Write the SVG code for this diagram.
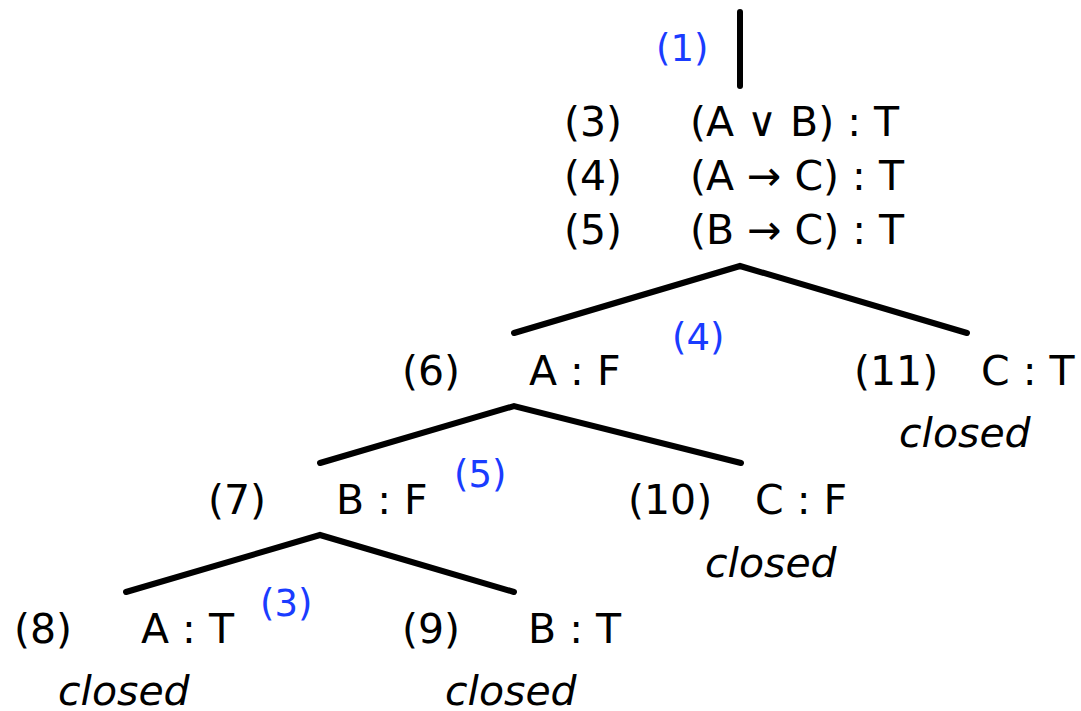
<svg xmlns="http://www.w3.org/2000/svg" width="1081" height="711" viewBox="0 0 1081 711">
<style>
text{font-family:"DejaVu Sans",sans-serif;font-size:41px;fill:#000}
.ref{fill:#1a3cff;font-size:37px}
.cl{font-style:italic}
.br{fill:none;stroke:#000;stroke-width:6;stroke-linecap:round;stroke-linejoin:miter}
</style>
<rect width="1081" height="711" fill="#fff"/>
<g id="connectors">
<path class="br" d="M740,12 V86"/>
<path class="br" d="M514,333 L740,266 L967,333"/>
<path class="br" d="M320,463 L514,406 L741,463"/>
<path class="br" d="M126,592 L320,535 L514,592"/>
</g>
<g id="refs">
<text class="ref" x="656" y="61">(1)</text>
<text class="ref" x="672" y="350">(4)</text>
<text class="ref" x="454" y="487">(5)</text>
<text class="ref" x="260" y="616">(3)</text>
</g>
<g id="root">
<text x="564" y="136">(3)</text>
<text x="690" y="136">(A ∨ B) : T</text>
<text x="564" y="190">(4)</text>
<text x="690" y="190">(A → C) : T</text>
<text x="564" y="244">(5)</text>
<text x="690" y="244">(B → C) : T</text>
</g>
<g id="n6">
<text x="402" y="385">(6)</text>
<text x="529" y="385">A : F</text>
</g>
<g id="n11">
<text x="854" y="385">(11)</text>
<text x="981" y="385">C : T</text>
<text class="cl" x="899" y="447">closed</text>
</g>
<g id="n7">
<text x="208" y="514">(7)</text>
<text x="336" y="514">B : F</text>
</g>
<g id="n10">
<text x="628" y="514">(10)</text>
<text x="755" y="514">C : F</text>
<text class="cl" x="705" y="577">closed</text>
</g>
<g id="n8">
<text x="14" y="643">(8)</text>
<text x="141" y="643">A : T</text>
<text class="cl" x="58" y="705">closed</text>
</g>
<g id="n9">
<text x="402" y="643">(9)</text>
<text x="528" y="643">B : T</text>
<text class="cl" x="445" y="705">closed</text>
</g>
</svg>
